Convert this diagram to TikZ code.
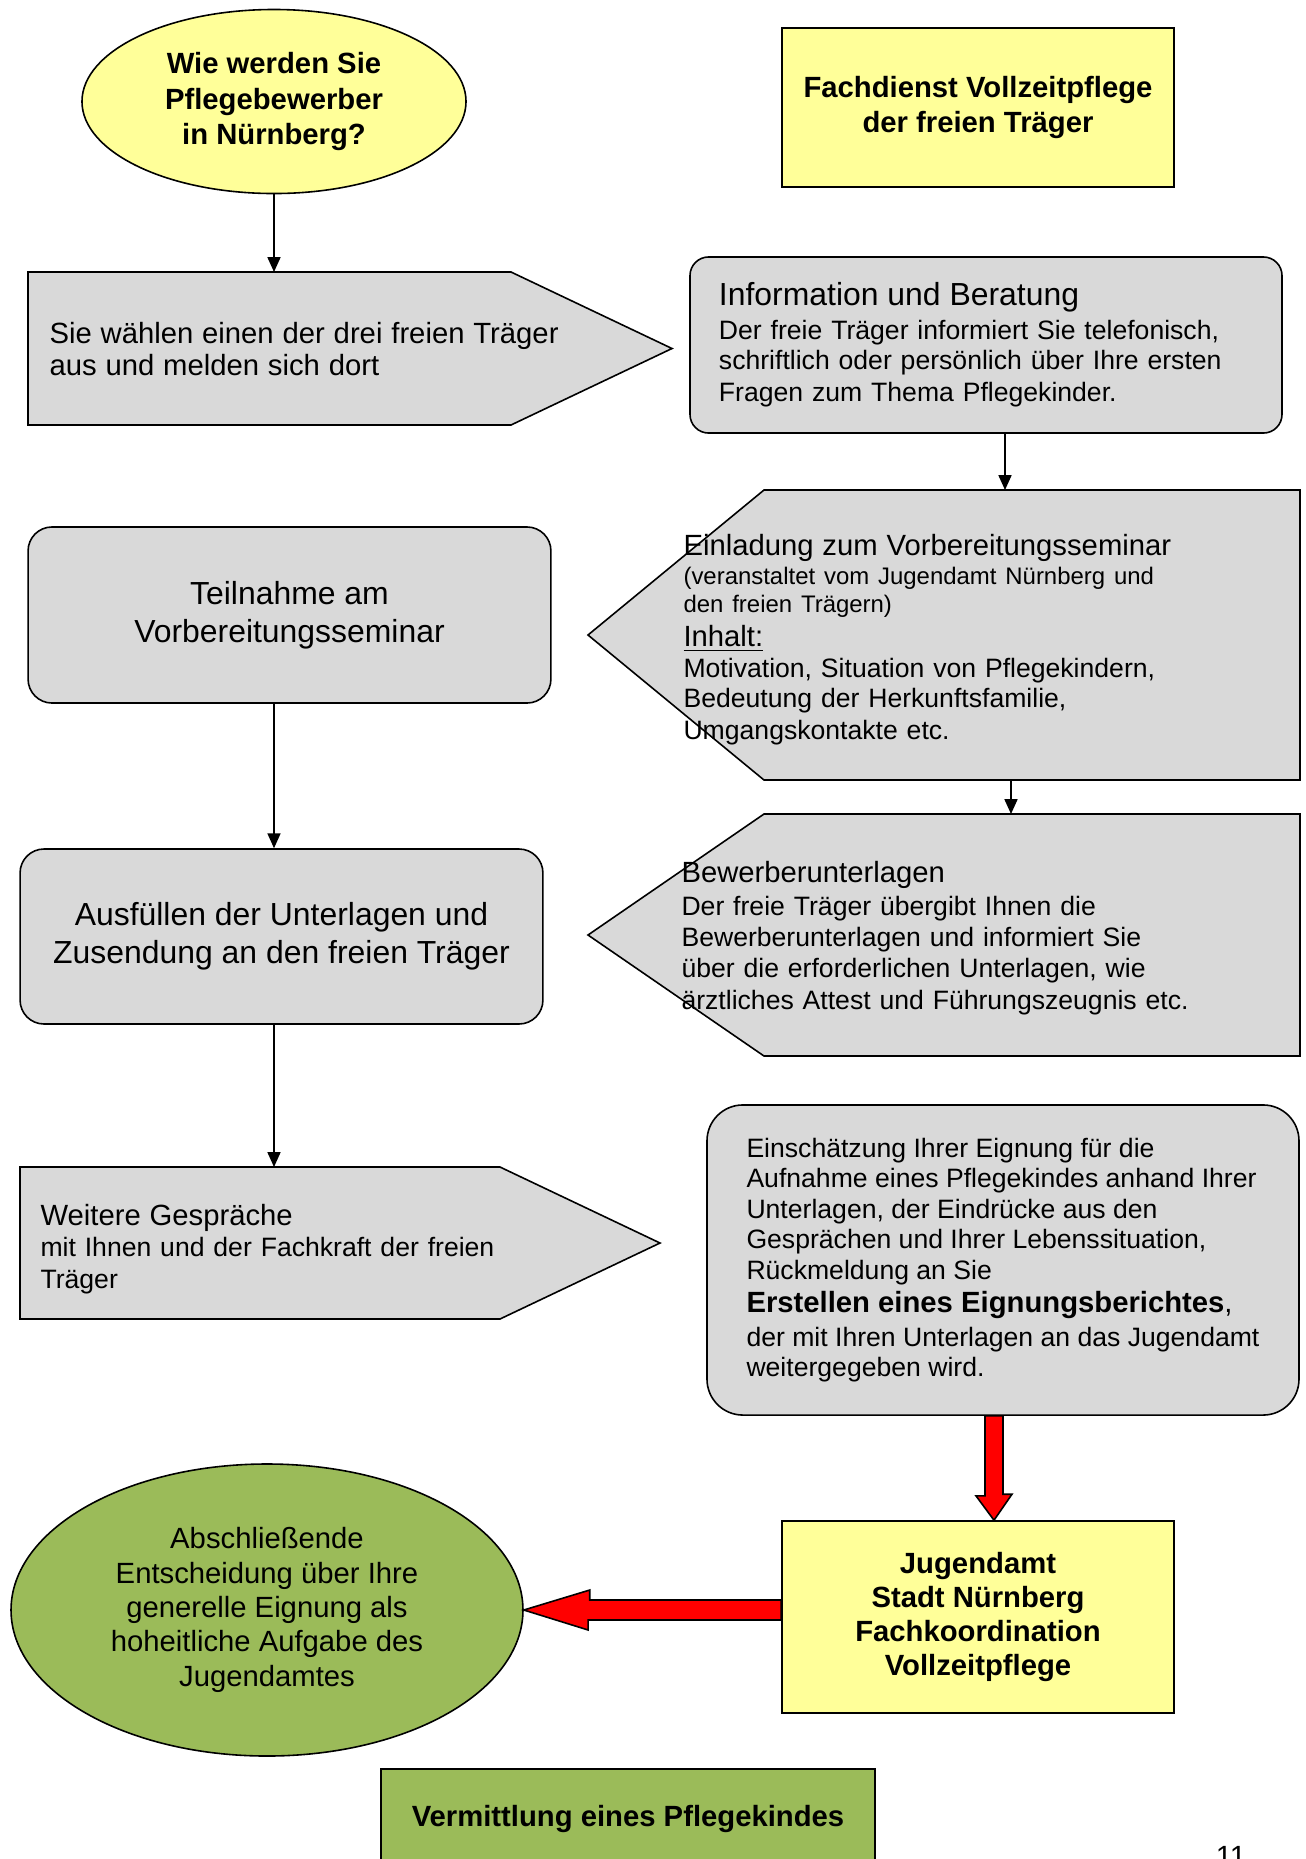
\documentclass[tikz,border=0pt]{standalone}
\usepackage{fontspec}
\setmainfont{Liberation Sans}
\usetikzlibrary{arrows.meta,calc,shapes.geometric}

\definecolor{boxgray}{RGB}{217,217,217}
\definecolor{paleyellow}{RGB}{255,255,153}
\definecolor{olivegreen}{RGB}{155,187,89}

\newcommand{\txtS}{\fontsize{9}{10.35}\selectfont}
\newcommand{\txtM}{\fontsize{10}{11.5}\selectfont}
\newcommand{\txtL}{\fontsize{11}{12.9}\selectfont}
\newcommand{\txtXL}{\fontsize{12}{14.2}\selectfont}

\begin{document}
\begin{tikzpicture}[x=0.376pt,y=-0.376pt]
\tikzstyle{box}=[draw=black,line width=0.6pt,fill=boxgray]
\tikzstyle{roundbox}=[box,rectangle,rounded corners=7pt,inner sep=0pt]
\tikzstyle{yellowbox}=[draw=black,line width=0.6pt,fill=paleyellow,rectangle,inner sep=0pt,align=center,font=\txtL\bfseries]
\tikzstyle{txt}=[inner sep=0pt,align=left,anchor=west,text width=240pt]
\tikzstyle{arr}=[-{Triangle[length=5.6pt,width=4.9pt]},line width=0.6pt]
\tikzstyle{bigarr}=[draw=black,line width=0.6pt,fill=red]

\path[fill=white] (0,0) rectangle (1306,1859);
\useasboundingbox (0,0) rectangle (1306,1859);

% Top row
\node (q) [draw,line width=0.6pt,fill=paleyellow,ellipse,inner sep=0pt,minimum width=144.4pt,minimum height=69.2pt,align=center,font={\fontsize{11}{13.4}\selectfont\bfseries}] at (274,101.5) {Wie werden Sie\\Pflegebewerber\\in Nürnberg?};
\node (fach) [yellowbox,minimum width=147.4pt,minimum height=59.8pt] at (978,107.5) {Fachdienst Vollzeitpflege\\der freien Träger};

% Steps of the freien Träger
\draw[box] (28,272) -- (511,272) -- (672,348.5) -- (511,425) -- (28,425) -- cycle;
\coordinate (wahl-n) at (274,272);
\node (wahl) [txt] at (49,349) {\txtL Sie wählen einen der drei freien Träger\\aus und melden sich dort};

\node (info) [roundbox,minimum width=222.6pt,minimum height=66.2pt,text width=200.8pt,inner xsep=10.9pt,align=left] at (986,345) {\txtXL Information und Beratung\\[1pt]\txtM Der freie Träger informiert Sie telefonisch,\\schriftlich oder persönlich über Ihre ersten\\Fragen zum Thema Pflegekinder.};

\draw[box] (764,490) -- (1300,490) -- (1300,780) -- (764,780) -- (588,635) -- cycle;
\coordinate (einl-n) at (1005,490);
\coordinate (einl-s) at (1011,780);
\node (einl) [txt] at (683,640) {\txtL Einladung zum Vorbereitungsseminar\\[0.5pt]\txtS (veranstaltet vom Jugendamt Nürnberg und\\den freien Trägern)\\\txtL \underline{Inhalt:}\\\txtM Motivation, Situation von Pflegekindern,\\Bedeutung der Herkunftsfamilie,\\Umgangskontakte etc.};

\node (teil) [roundbox,rounded corners=9pt,minimum width=196.6pt,minimum height=66.2pt,align=center,font=\txtXL] at (289.5,615) {Teilnahme am\\Vorbereitungsseminar};

\draw[box] (764,814) -- (1300,814) -- (1300,1056) -- (764,1056) -- (588,935) -- cycle;
\coordinate (bew-n) at (1011,814);
\node (bew) [txt] at (681,938) {\txtL Bewerberunterlagen\\[1pt]\txtM Der freie Träger übergibt Ihnen die\\Bewerberunterlagen und informiert Sie\\über die erforderlichen Unterlagen, wie\\ärztliches Attest und Führungszeugnis etc.};

\node (ausf) [roundbox,rounded corners=9pt,minimum width=196.6pt,minimum height=65.8pt,align=center,font=\txtXL] at (281.5,936.5) {Ausfüllen der Unterlagen und\\Zusendung an den freien Träger};

\draw[box] (20,1167) -- (500,1167) -- (660,1243) -- (500,1319) -- (20,1319) -- cycle;
\coordinate (weit-n) at (274,1167);
\node (weit) [txt] at (40,1249) {\txtL Weitere Gespräche\\\txtM mit Ihnen und der Fachkraft der freien\\Träger};

\node (eign) [roundbox,rounded corners=13.5pt,minimum width=222.6pt,minimum height=116.6pt,inner sep=0pt,align=left,font=\txtM] at (1003,1260) {Einschätzung Ihrer Eignung für die\\Aufnahme eines Pflegekindes anhand Ihrer\\Unterlagen, der Eindrücke aus den\\Gesprächen und Ihrer Lebenssituation,\\Rückmeldung an Sie\\[1pt]\txtL\textbf{Erstellen eines Eignungsberichtes},\\[1pt]der mit Ihren Unterlagen an das Jugendamt\\weitergegeben wird.};

% Jugendamt
\node (jug) [yellowbox,minimum width=147.4pt,minimum height=72.2pt,font={\fontsize{11}{12.8}\selectfont\bfseries}] at (978,1617) {Jugendamt\\Stadt Nürnberg\\Fachkoordination\\Vollzeitpflege};
\node (dec) [draw,line width=0.6pt,fill=olivegreen,ellipse,inner sep=0pt,minimum width=192.5pt,minimum height=109.8pt,align=center,font=\txtL] at (267,1610) {Abschließende\\Entscheidung über Ihre\\generelle Eignung als\\hoheitliche Aufgabe des\\Jugendamtes};
\node (verm) [draw,line width=0.6pt,fill=olivegreen,rectangle,minimum width=185.7pt,minimum height=37.6pt,font=\txtL\bfseries] at (628,1819) {Vermittlung eines Pflegekindes};
\node (page) [anchor=base,font=\txtL] at (1231,1866) {11};

% Connectors
\draw[arr] (q.south) -- (wahl-n);
\draw[arr] (info.south -| einl-n) -- (einl-n);
\draw[arr] (einl-s) -- (bew-n);
\draw[arr] (teil.south -| q.south) -- (ausf.north -| q.south);
\draw[arr] (ausf.south -| q.south) -- (weit-n);

\filldraw[bigarr] ($(jug.north)+(16,0)$) -- ++(18,-26) -- ++(-9,0) -- (eign.south) -- ++(-18,0) -- ++(0,80) -- ++(-9,0) -- cycle;
\filldraw[bigarr] (dec.east) -- ++(66,-20) -- ++(0,10) -- ($(jug.west)+(0,-17)$) -- ($(jug.west)+(0,3)$) -- ++(-193,0) -- ++(0,10) -- cycle;

\end{tikzpicture}
\end{document}
